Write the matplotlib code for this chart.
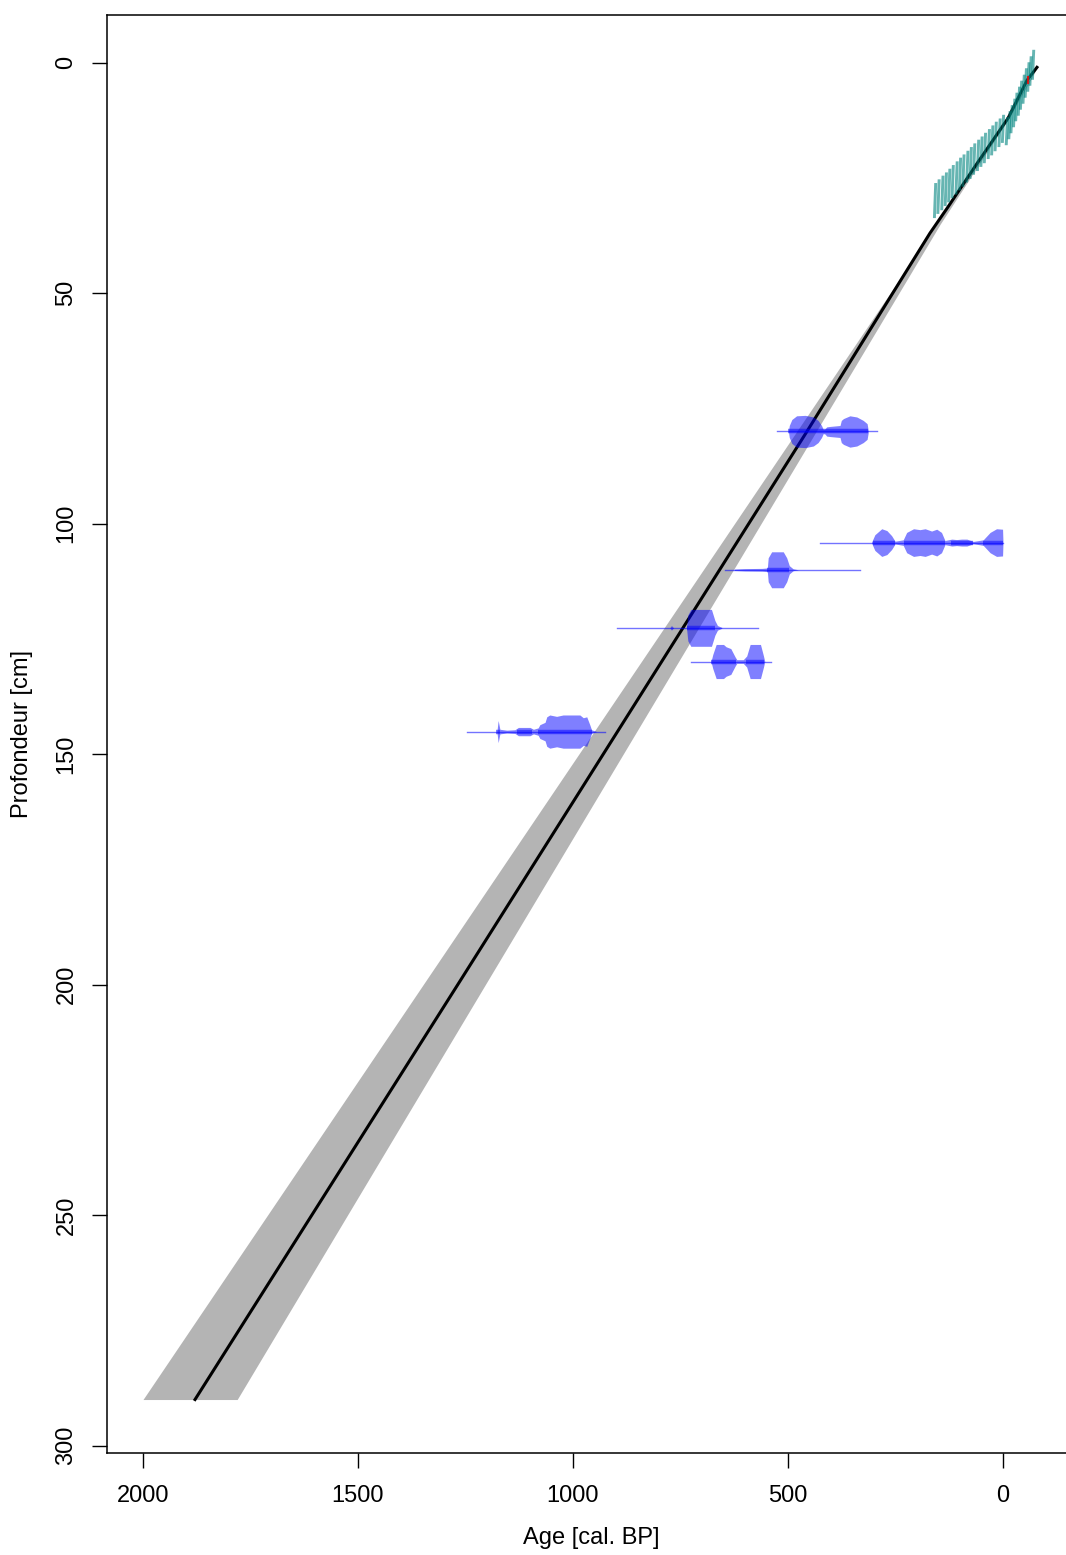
import numpy as np
import matplotlib.pyplot as plt

plt.rcParams['font.family'] = ['Liberation Sans', 'DejaVu Sans']

# modele age-profondeur (mediane)
model_depth = [1.0, 3.8, 12.0, 21.8, 31.3, 37.0, 80.3, 200.0, 290.0]
model_age = [-79, -56, -12, 60, 128, 170, 458, 1268, 1879]

# enveloppe grise (intervalle)
band_depth = [1.0, 12.0, 35.0, 290.0]
band_old = [-78, -10, 154, 2000]
band_young = [-80, -14, 146, 1781]

# 210Pb : ages et profondeurs (haut / bas) de chaque trait
pb_age = [158, 150, 141, 133, 125, 117, 108, 100, 92, 83, 75, 67, 58, 50, 42, 33, 25, 17, 8, 0,
          -9, -15, -20, -26, -31, -37, -42, -48, -53, -59, -64, -70]
pb_top = [26.1, 25.3, 24.5, 23.8, 23.0, 22.2, 21.4, 20.6, 19.9, 19.1, 18.3, 17.5, 16.7, 16.0,
          15.2, 14.4, 13.6, 12.8, 12.1, 11.3,
          11.8, 10.5, 9.2, 7.8, 6.5, 5.2, 3.9, 2.6, 1.2, -0.1, -1.4, -2.8]
pb_bot = [33.7, 32.8, 32.0, 31.1, 30.3, 29.4, 28.6, 27.7, 26.9, 26.0, 25.2, 24.3, 23.5, 22.6,
          21.8, 20.9, 20.1, 19.2, 18.3, 17.4,
          17.9, 16.6, 15.3, 14.0, 12.7, 11.5, 10.2, 8.9, 7.6, 6.3, 5.0, 3.7]
surface_age = -58
surface_depth = 3.8

# dates 14C calibrees
d1_depth = 80.0
d1_range = (526, 293)
d1_age = [499, 497, 491, 480, 460, 441, 430, 422, 418, 414, 410, 402, 379, 376, 371, 356, 340, 325, 316, 313]
d1_hh = [0, 1.3, 2.6, 3.4, 3.5, 3.15, 2.4, 1.3, 0.45, 0.55, 1.0, 1.1, 1.3, 2.4, 2.8, 3.4, 3.15, 2.4, 1.7, 0]
d1_hpd = [(499, 313)]

d2_depth = 104.1
d2_range = (426, 0)
d2_age = [306, 298, 282, 270, 259, 251, 232, 224, 208, 193, 181, 166, 154, 143, 135, 119, 108, 96, 84, 69,
          46, 30, 15, 1, 0]
d2_hh = [0, 1.7, 3.0, 2.6, 1.5, 0.3, 0.6, 2.2, 3.0, 2.8, 3.0, 2.5, 2.9, 2.2, 0.45, 0.75, 0.65, 0.75, 0.75,
         0.25, 0.6, 2.2, 3.0, 2.9, 0]
d2_hpd = [(302, 252), (230, 136), (122, 70), (46, 0)]

d3_depth = 110.0
d3_range = (647, 333)
d3_age = [625, 600, 560, 548, 546, 538, 511, 503, 497, 488, 476]
d3_hh = [0.15, 0.25, 0.3, 0.4, 2.6, 3.9, 3.9, 2.6, 0.9, 0.2, 0]
d3_hpd = [(548, 497)]

d4_depth = 122.6
d4_range = (898, 570)
d4_age = [775, 771, 766, 736, 733, 726, 678, 670, 664, 654]
d4_hh = [0, 0.5, 0, 0, 2.8, 4.0, 4.0, 1.6, 0.5, 0.1]
d4_hpd = [(734, 670)]

d5_depth = 129.9
d5_range = (726, 540)
d5_age = [679, 675, 667, 650, 644, 633, 623, 619, 604, 596, 588, 564, 557, 554]
d5_hh = [0, 1.5, 3.7, 3.7, 3.2, 2.8, 1.0, 0.4, 0.4, 1.2, 3.7, 3.7, 1.2, 0]
d5_hpd = [(679, 620), (598, 556)]

d6_depth = 145.1
d6_range = (1247, 926)
d6_age = [1177, 1174, 1170, 1154, 1135, 1127, 1100, 1092, 1081, 1077, 1065, 1061, 1054, 1038, 1023,
          999, 984, 976, 968, 961, 957, 945]
d6_hh = [0, 2.4, 0.5, 0.3, 0.4, 0.9, 0.9, 0.5, 0.8, 1.5, 2.0, 3.2, 3.6, 3.3, 3.6, 3.6, 3.6, 3.0, 3.2,
         1.5, 0.4, 0]
d6_hpd = [(1178, 1170), (1130, 1095), (1081, 956)]

dates = [
    (d1_depth, d1_range, d1_age, d1_hh, d1_hpd),
    (d2_depth, d2_range, d2_age, d2_hh, d2_hpd),
    (d3_depth, d3_range, d3_age, d3_hh, d3_hpd),
    (d4_depth, d4_range, d4_age, d4_hh, d4_hpd),
    (d5_depth, d5_range, d5_age, d5_hh, d5_hpd),
    (d6_depth, d6_range, d6_age, d6_hh, d6_hpd),
]

fig = plt.figure(figsize=(10.66, 15.55), dpi=100)
ax = fig.add_axes([107 / 1066, 1 - 1453 / 1555, 962 / 1066, 1438 / 1555])

# enveloppe + mediane
ax.fill_betweenx(band_depth, band_young, band_old, color='#b4b4b4', lw=0, zorder=1)
ax.plot(model_age, model_depth, color='black', lw=2.2, zorder=2)

# 210Pb
teal = (0.0, 0.52, 0.5)
for a, top, bot in zip(pb_age, pb_top, pb_bot):
    w = 3.4
    lean = 1.5
    xs = [a + w + lean, a - w + lean, a - w - lean, a + w - lean]
    ys = [bot, bot, top, top]
    ax.fill(xs, ys, color=teal, alpha=0.6, lw=0, zorder=3)
ax.plot([surface_age, surface_age], [surface_depth - 0.6, surface_depth + 0.6],
        color='red', lw=1.5, alpha=0.8, zorder=4)

# dates calibrees
for depth, rng, ages, hh, hpd in dates:
    ages = np.array(ages, dtype=float)
    hh = np.array(hh, dtype=float)
    ax.plot(rng, [depth, depth], color='blue', alpha=0.55, lw=1.0, zorder=5)
    ax.fill_between(ages, depth - hh, depth + hh, color='blue', alpha=0.5, lw=0, zorder=5)
    for a0, a1 in hpd:
        ax.plot([a0, a1], [depth, depth], color='blue', alpha=0.5, lw=3.2,
                solid_capstyle='butt', zorder=6)

ax.set_xlim(2083.7, -153.5)
ax.set_ylim(301.6, -10.35)
ax.set_xticks([2000, 1500, 1000, 500, 0])
ax.set_yticks([0, 50, 100, 150, 200, 250, 300])
ax.tick_params(direction='out', length=10.8, width=1.0, labelsize=17, pad=10.5)
ax.tick_params(axis='x', pad=12.5)
ax.tick_params(axis='y', labelrotation=90)
for lab in ax.get_yticklabels():
    lab.set_va('center')
for sp in ax.spines.values():
    sp.set_linewidth(1.1)

ax.set_xlabel('Age [cal. BP]', fontsize=17)
ax.set_ylabel('Profondeur [cm]', fontsize=17)
ax.xaxis.set_label_coords(0.503, -0.0591)
ax.xaxis.label.set_va('center')
ax.yaxis.set_label_coords(-0.0884, 0.5)
ax.yaxis.label.set_va('center')

fig.savefig('out.png', dpi=100)
